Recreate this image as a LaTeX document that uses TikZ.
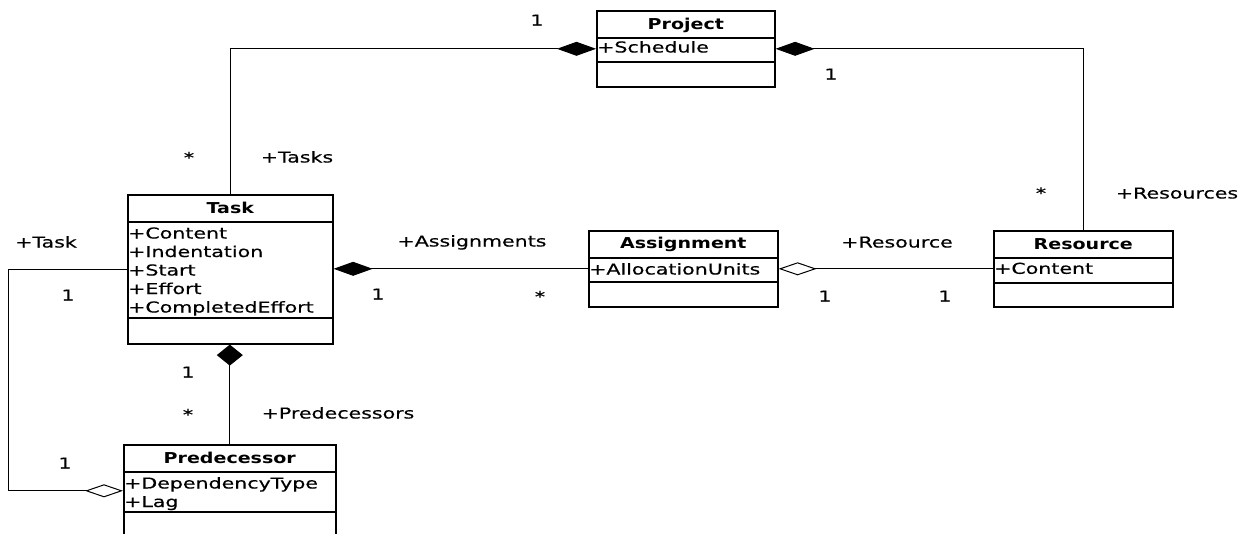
\documentclass[tikz,border=0pt]{standalone}
\usepackage{fontspec}
\setmainfont{DejaVu Sans}[FakeStretch=1.37,FakeBold=0.4]
\newfontfamily\hdrfont{DejaVu Sans}[FakeStretch=1.27]
\usetikzlibrary{arrows.meta}
\begin{document}
\begin{tikzpicture}[x=1pt,y=-1pt,
  every node/.style={font=\fontsize{15}{18.5}\selectfont, inner sep=0pt},
  clsbox/.style={draw, line width=1.6pt, anchor=north west},
  sepline/.style={line width=1.6pt},
  hdr/.style={anchor=base, font=\fontsize{15}{18.5}\selectfont\hdrfont\bfseries},
  attr/.style={anchor=base west},
  lbl/.style={anchor=base},
  conn/.style={line width=1pt},
  compH/.style={-{Diamond[length=39pt,width=14pt,fill=black]}},
  aggH/.style={-{Diamond[length=38pt,width=13pt,fill=white]}},
  compV/.style={-{Diamond[length=21pt,width=26pt,fill=black]}}]
\useasboundingbox (0,0) rectangle (1247,533);

% Project
\node[clsbox, minimum width=178pt, minimum height=76pt] (project) at (596,10) {};
\draw[sepline] (project.north west |- 0,38) -- (project.north east |- 0,38);
\draw[sepline] (project.north west |- 0,62) -- (project.north east |- 0,62);
\node[hdr] (projectname) at (project.north |- 0,29) {Project};
\node[attr] (projectattr) at (597,52.5) {+Schedule};

% Task
\node[clsbox, minimum width=205pt, minimum height=149pt] (task) at (127,194) {};
\draw[sepline] (task.north west |- 0,222) -- (task.north east |- 0,222);
\draw[sepline] (task.north west |- 0,318) -- (task.north east |- 0,318);
\node[hdr] (taskname) at (task.north |- 0,213.5) {Task};
\node[attr] (ta1) at (128,238.5) {+Content};
\node[attr] (ta2) at (128,257) {+Indentation};
\node[attr] (ta3) at (128,275.5) {+Start};
\node[attr] (ta4) at (128,294) {+Effort};
\node[attr] (ta5) at (128,312.5) {+CompletedEffort};

% Assignment
\node[clsbox, minimum width=189pt, minimum height=76pt] (assign) at (588,230) {};
\draw[sepline] (assign.north west |- 0,258) -- (assign.north east |- 0,258);
\draw[sepline] (assign.north west |- 0,282) -- (assign.north east |- 0,282);
\node[hdr] (assignname) at (assign.north |- 0,248.5) {Assignment};
\node[attr] (assignattr) at (589,274.5) {+AllocationUnits};

% Resource
\node[clsbox, minimum width=179pt, minimum height=76pt] (resource) at (993,230) {};
\draw[sepline] (resource.north west |- 0,258) -- (resource.north east |- 0,258);
\draw[sepline] (resource.north west |- 0,283) -- (resource.north east |- 0,283);
\node[hdr] (resourcename) at (resource.north |- 0,249) {Resource};
\node[attr] (resourceattr) at (994,273.8) {+Content};

% Predecessor
\node[clsbox, minimum width=212pt, minimum height=92pt] (pred) at (123,444) {};
\draw[sepline] (pred.north west |- 0,472) -- (pred.north east |- 0,472);
\draw[sepline] (pred.north west |- 0,512) -- (pred.north east |- 0,512);
\node[hdr] (predname) at (pred.north |- 0,463) {Predecessor};
\node[attr] (pa1) at (124,488.5) {+DependencyType};
\node[attr] (pa2) at (124,507) {+Lag};

% Connectors
\draw[conn, compH] (task.north) |- (project.west);
\draw[conn, compH] (resource.north) |- (project.east);
\draw[conn, compH] (assign.west) -- (assign.west -| task.east);
\draw[conn, aggH] (resource.west) -- (resource.west -| assign.east);
\draw[conn, compV] (pred.north) -- (pred.north |- task.south);
\draw[conn, aggH] (task.west) -- ++(-119,0) coordinate (tleft) |- (pred.west);

% Labels
\node[lbl] (l1) at (537,25.5) {1};
\node[lbl] (l2) at (831,79.5) {1};
\node[lbl] (l3) at (189,163) {*};
\node[lbl] (l4) at (297,162.5) {+Tasks};
\node[lbl] (l5) at (1041,198.5) {*};
\node[lbl] (l6) at (1177,198.5) {+Resources};
\node[lbl] (l7) at (46,247.5) {+Task};
\node[lbl] (l8) at (472,246.5) {+Assignments};
\node[lbl] (l9) at (897,247.5) {+Resource};
\node[lbl] (l10) at (68,300.5) {1};
\node[lbl] (l11) at (378,299.5) {1};
\node[lbl] (l12) at (540,302) {*};
\node[lbl] (l13) at (825,301.5) {1};
\node[lbl] (l14) at (945,301.5) {1};
\node[lbl] (l15) at (188,377.5) {1};
\node[lbl] (l16) at (188,420) {*};
\node[lbl] (l17) at (338,418.5) {+Predecessors};
\node[lbl] (l18) at (65,468.5) {1};
\end{tikzpicture}
\end{document}
